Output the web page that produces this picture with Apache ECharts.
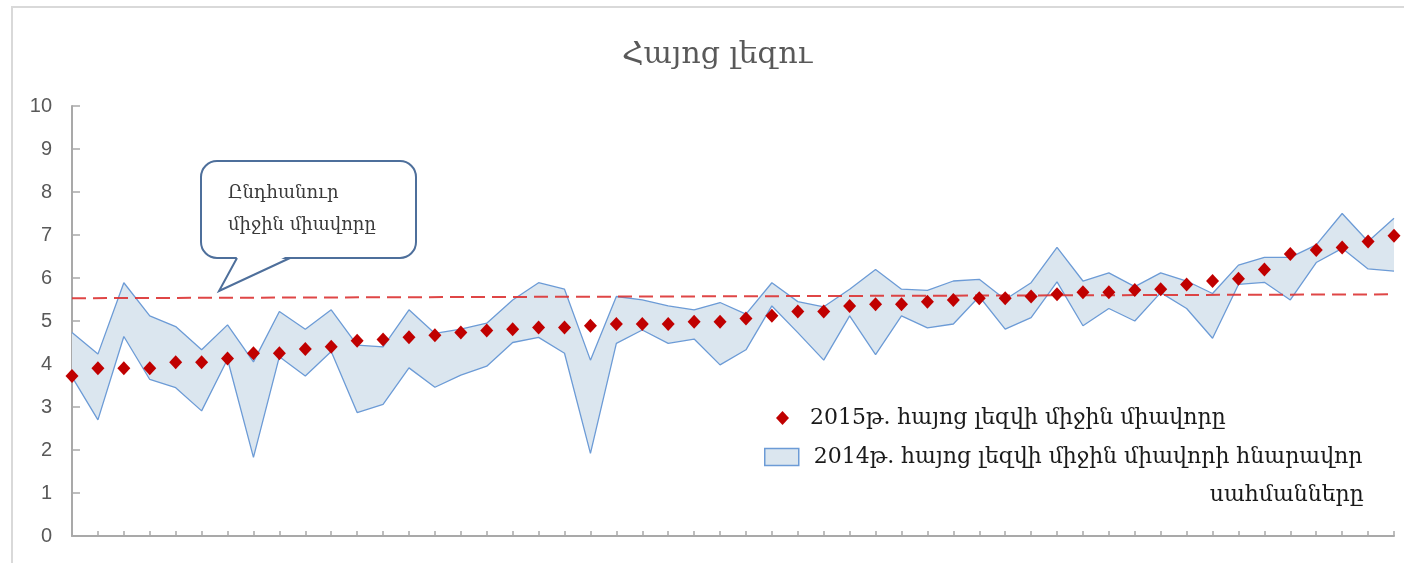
<!DOCTYPE html>
<html>
<head>
<meta charset="utf-8">
<script src="https://cdn.jsdelivr.net/npm/echarts@6/dist/echarts.min.js"></script>
<style>
  html, body { margin: 0; padding: 0; background: #ffffff; }
  #chart { width: 1404px; height: 563px; }
</style>
</head>
<body>
<div id="chart"></div>
<script>
// ---- Data ----
const categories = ['1','2','3','4','5','6','7','8','9','10','11','12','13','14','15','16','17','18','19','20','21','22','23','24','25','26','27','28','29','30','31','32','33','34','35','36','37','38','39','40','41','42','43','44','45','46','47','48','49','50','51','52'];

const avg2015 = [3.72, 3.90, 3.90, 3.90, 4.04, 4.04, 4.13, 4.25, 4.25, 4.35, 4.40, 4.54,
  4.57, 4.62, 4.67, 4.73, 4.78, 4.81, 4.85, 4.85, 4.89, 4.93, 4.93, 4.93, 4.98,
  4.98, 5.06, 5.12, 5.22, 5.22, 5.35, 5.39, 5.39, 5.45, 5.49, 5.53, 5.53, 5.57,
  5.62, 5.67, 5.67, 5.72, 5.74, 5.85, 5.93, 5.98, 6.20, 6.56, 6.65, 6.71, 6.85, 6.98];

const upper2014 = [4.73, 4.23, 5.89, 5.12, 4.87, 4.33, 4.91, 4.05, 5.22, 4.81, 5.26, 4.44,
  4.40, 5.26, 4.71, 4.81, 4.95, 5.49, 5.89, 5.74, 4.09, 5.57, 5.49, 5.35, 5.26,
  5.43, 5.16, 5.89, 5.45, 5.33, 5.74, 6.20, 5.74, 5.71, 5.93, 5.97, 5.50, 5.89,
  6.71, 5.93, 6.12, 5.80, 6.12, 5.93, 5.64, 6.30, 6.48, 6.48, 6.77, 7.50, 6.85, 7.39];

const lower2014 = [3.70, 2.70, 4.64, 3.64, 3.45, 2.91, 4.11, 1.83, 4.17, 3.72, 4.29, 2.87,
  3.06, 3.91, 3.46, 3.74, 3.95, 4.50, 4.62, 4.25, 1.92, 4.48, 4.79, 4.48, 4.58,
  3.98, 4.33, 5.35, 4.73, 4.09, 5.12, 4.22, 5.12, 4.84, 4.93, 5.57, 4.81, 5.08,
  5.91, 4.89, 5.29, 5.00, 5.66, 5.29, 4.60, 5.85, 5.90, 5.49, 6.36, 6.69, 6.21, 6.16];

// overall average line (start value, end value)
const overallAvg = [5.53, 5.62];

const yTicks = [0, 10, 1]; // min, max, interval

const titleText = 'Հայոց լեզու';
const name2015 = '2015թ. հայոց լեզվի միջին միավորը';
const name2014 = '2014թ. հայոց լեզվի միջին միավորի հնարավոր սահմանները';
const name2014Line1 = '2014թ. հայոց լեզվի միջին միավորի հնարավոր';
const name2014Line2 = 'սահմանները';
const calloutLines = ['Ընդհանուր', 'միջին միավորը'];

// band thickness for stacking
const bandWidth = upper2014.map((u, i) => +(u - lower2014[i]).toFixed(4));

const serif = "'DejaVu Serif', serif";
const sans = "'Liberation Sans', 'DejaVu Sans', sans-serif";
const lineBlue = '#6c9bd6';
const bandFill = '#dbe6ef';
const legendFont = 22;

const chart = echarts.init(document.getElementById('chart'), null, { renderer: 'canvas' });

chart.setOption({
  animation: false,
  backgroundColor: '#ffffff',
  title: {
    text: titleText,
    left: 622,
    top: 40,
    padding: 0,
    textStyle: { fontFamily: serif, fontSize: 30, fontWeight: 'normal', color: '#595959' }
  },
  grid: { left: 72, right: 10, top: 106, bottom: 27, containLabel: false },
  xAxis: {
    type: 'category',
    data: categories,
    boundaryGap: false,
    axisLine: { lineStyle: { color: '#a9a9a9', width: 2 } },
    axisTick: { show: true, inside: true, length: 5, interval: 0, lineStyle: { color: '#a9a9a9', width: 1.5 } },
    axisLabel: { show: false },
    splitLine: { show: false }
  },
  yAxis: {
    type: 'value',
    min: yTicks[0], max: yTicks[1], interval: yTicks[2],
    axisLine: { show: true, lineStyle: { color: '#a9a9a9', width: 2 } },
    axisTick: { show: true, inside: true, length: 8, lineStyle: { color: '#a9a9a9', width: 1.5 } },
    axisLabel: { margin: 20, fontFamily: sans, fontSize: 20, color: '#595959' },
    splitLine: { show: false }
  },
  legend: [
    {
      orient: 'vertical',
      left: 776, top: 407,
      padding: 0,
      itemWidth: 13, itemHeight: 14,
      selectedMode: false,
      data: [{ name: name2015, icon: 'diamond', itemStyle: { color: '#c00000', opacity: 1 } }],
      formatter: function (n) { return '{a|' + n + '}'; },
      textStyle: {
        fontFamily: serif, fontSize: legendFont, color: '#1a1a1a', lineHeight: 14,
        padding: [0, 0, 0, 16],
        rich: { a: { fontFamily: serif, fontSize: legendFont, color: '#1a1a1a', lineHeight: 14 } }
      }
    },
    {
      orient: 'vertical',
      left: 764, top: 446,
      padding: 0,
      itemWidth: 34, itemHeight: 17,
      selectedMode: false,
      data: [{ name: name2014, icon: 'rect', itemStyle: { color: bandFill, borderColor: lineBlue, borderWidth: 1.5 } }],
      formatter: function () {
        return '{a|' + name2014Line1 + '}\n{b|' + name2014Line2 + '}';
      },
      textStyle: {
        fontFamily: serif, fontSize: legendFont, color: '#1a1a1a',
        padding: [38, 0, 0, 10],
        rich: {
          a: { fontFamily: serif, fontSize: legendFont, color: '#1a1a1a', lineHeight: 38, width: 550, align: 'left' },
          b: { fontFamily: serif, fontSize: legendFont, color: '#1a1a1a', lineHeight: 38, width: 550, align: 'right' }
        }
      }
    }
  ],
  series: [
    {
      name: 'lower',
      type: 'line',
      stack: 'band',
      data: lower2014,
      symbol: 'none',
      lineStyle: { color: lineBlue, width: 1.3 },
      z: 2,
      silent: true
    },
    {
      name: name2014,
      type: 'line',
      stack: 'band',
      data: bandWidth,
      symbol: 'none',
      lineStyle: { color: lineBlue, width: 1.3 },
      itemStyle: { color: bandFill },
      areaStyle: { color: bandFill, opacity: 1 },
      z: 2,
      silent: true
    },
    {
      name: name2015,
      type: 'scatter',
      data: avg2015,
      symbol: 'diamond',
      symbolSize: [13, 14],
      itemStyle: { color: '#c00000', opacity: 1 },
      z: 5,
      markLine: {
        silent: true,
        symbol: 'none',
        z: 4,
        label: { show: false },
        lineStyle: { color: '#dc3232', width: 2, type: [14, 7], opacity: 0.9 },
        data: [[
          { coord: [categories[0], overallAvg[0]] },
          { coord: [categories[categories.length - 1], overallAvg[1]] }
        ]]
      }
    }
  ],
  graphic: [
    {
      type: 'rect',
      shape: { x: 12, y: 7, width: 1500, height: 700 },
      style: { fill: 'none', stroke: '#d9d9d9', lineWidth: 2 },
      silent: true, z: 0
    },
    {
      type: 'rect',
      shape: { x: 201, y: 161, width: 215, height: 97, r: 16 },
      style: { fill: '#ffffff', stroke: '#4e6f9b', lineWidth: 2 },
      silent: true, z: 10
    },
    {
      type: 'polygon',
      shape: { points: [[238, 255], [219, 291], [289, 255]] },
      style: { fill: '#ffffff', stroke: 'none' },
      silent: true, z: 11
    },
    {
      type: 'polyline',
      shape: { points: [[237, 258], [219, 291], [290, 258]] },
      style: { stroke: '#4e6f9b', lineWidth: 2, fill: 'none' },
      silent: true, z: 12
    },
    {
      type: 'text',
      x: 228, y: 193,
      style: { text: calloutLines[0], fontFamily: serif, fontSize: 18, fill: '#3a3a3a', verticalAlign: 'middle' },
      silent: true, z: 13
    },
    {
      type: 'text',
      x: 228, y: 225,
      style: { text: calloutLines[1], fontFamily: serif, fontSize: 18, fill: '#3a3a3a', verticalAlign: 'middle' },
      silent: true, z: 13
    }
  ]
});
</script>
</body>
</html>
